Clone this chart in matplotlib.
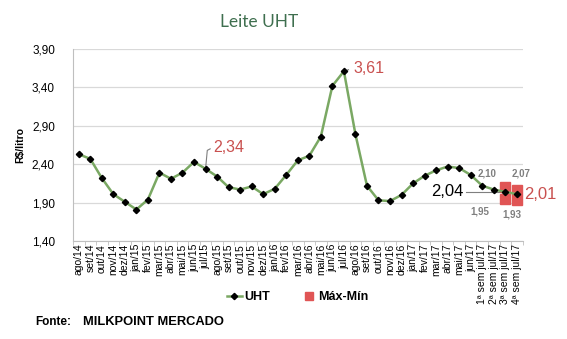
import matplotlib
matplotlib.use("Agg")
import matplotlib.pyplot as plt
import numpy as np

plt.rcParams['font.family'] = ['Liberation Sans', 'DejaVu Sans']

categories = [
    "ago/14", "set/14", "out/14", "nov/14", "dez/14",
    "jan/15", "fev/15", "mar/15", "abr/15", "mai/15", "jun/15",
    "jul/15", "ago/15", "set/15", "out/15", "nov/15", "dez/15",
    "jan/16", "fev/16", "mar/16", "abr/16", "mai/16", "jun/16",
    "jul/16", "ago/16", "set/16", "out/16", "nov/16", "dez/16",
    "jan/17", "fev/17", "mar/17", "abr/17", "mai/17", "jun/17",
    "1ª sem jul/17", "2ª sem jul/17", "3ª sem jul/17", "4ª sem jul/17",
]
uht = [
    2.53, 2.47, 2.22, 2.01, 1.91,
    1.81, 1.94, 2.29, 2.21, 2.29, 2.43,
    2.34, 2.24, 2.10, 2.07, 2.11, 2.01,
    2.08, 2.26, 2.45, 2.51, 2.76, 3.42,
    3.61, 2.79, 2.12, 1.93, 1.92, 2.00,
    2.15, 2.25, 2.32, 2.37, 2.35, 2.26,
    2.12, 2.07, 2.04, 2.01,
]
range_idx = [37, 38]
range_max = [2.10, 2.07]
range_min = [1.95, 1.93]
yticks = [1.40, 1.90, 2.40, 2.90, 3.40, 3.90]

green = "#7aa863"
red = "#c9504f"
sq_red = "#e05555"
grey = "#7f7f7f"


def br(v):
    return f"{v:.2f}".replace(".", ",")


fig = plt.figure(figsize=(5.67, 3.39), dpi=100)
ax = fig.add_axes([0.1287, 0.289, 0.793, 0.5665])

x = np.arange(len(categories)) + 0.5
ax.plot(x, uht, color=green, lw=1.8, marker="D", ms=3.2,
        mfc="black", mec="black", zorder=3)
xr = x[range_idx]
ax.plot(xr, range_max, ls="none", marker="s", ms=7, color=sq_red, zorder=2.5)
ax.plot(xr, range_min, ls="none", marker="s", ms=7, color=sq_red, zorder=2.5)

ax.set_xlim(0, len(categories))
ax.set_ylim(1.40, 3.90)
ax.set_yticks(yticks)
ax.set_yticklabels([br(v) for v in yticks], fontsize=8.5)
ax.set_xticks(x)
ax.set_xticklabels(categories, rotation=90, fontsize=7.5)
ax.set_xticks(np.arange(len(categories) + 1), minor=True)
ax.tick_params(axis="x", which="major", length=0, pad=2)
ax.tick_params(axis="x", which="minor", length=3, color="#bfbfbf")
ax.tick_params(axis="y", length=0, pad=13)
ax.grid(axis="y", color="#d9d9d9", lw=0.9)
ax.set_axisbelow(True)
for s in ["top", "right"]:
    ax.spines[s].set_visible(False)
for s in ["left", "bottom"]:
    ax.spines[s].set_color("#bfbfbf")
ax.set_ylabel("R$/litro", fontsize=7.5, fontweight="bold", labelpad=5)

# value callouts
i = categories.index("jul/15")
ax.plot([x[i], x[i] + 0.15, x[i] + 0.4], [uht[i], uht[i] + 0.24, uht[i] + 0.26],
        color=grey, lw=0.8)
ax.text(x[i] + 0.7, uht[i] + 0.28, br(uht[i]),
        color=red, fontsize=11.5, va="center", ha="left")

i = categories.index("jul/16")
ax.plot([x[i], x[i] + 0.4], [uht[i], uht[i] + 0.02], color=grey, lw=0.8)
ax.text(x[i] + 0.85, uht[i] + 0.04, br(uht[i]),
        color=red, fontsize=11.5, va="center", ha="left")

i = 37
ax.plot([x[i] - 3.4, x[i]], [uht[i], uht[i]], color=grey, lw=0.8)
ax.text(x[i] - 3.6, uht[i], br(uht[i]),
        color="black", fontsize=12, va="center", ha="right")

i = 38
ax.text(x[i] + 0.6, uht[i], br(uht[i]),
        color=red, fontsize=12, va="center", ha="left", clip_on=False)

small = dict(color=grey, fontsize=7, fontweight="bold", ha="center", va="center")
ax.text(xr[0] - 1.6, range_max[0] + 0.18, br(range_max[0]), **small)
ax.text(xr[1] + 0.36, range_max[1] + 0.21, br(range_max[1]), **small)
ax.text(xr[0] - 2.2, range_min[0] - 0.17, br(range_min[0]), **small)
ax.text(xr[1] - 0.4, range_min[1] - 0.18, br(range_min[1]), **small)

fig.text(0.457, 0.935, "Leite UHT", color="#3f6f4f", fontsize=12.5,
         family=["Lato", "DejaVu Sans"], ha="center", va="center")

h1, = ax.plot([], [], color=green, lw=1.8, marker="D", ms=3.2, mfc="black", mec="black")
h2, = ax.plot([], [], color=sq_red, lw=0, marker="s", ms=6)
fig.legend([h1, h2], ["UHT", "Máx-Mín"], loc="center", bbox_to_anchor=(0.525, 0.124),
           ncol=2, frameon=False, prop={"weight": "bold", "size": 9},
           handlelength=1.2, handletextpad=0.2, columnspacing=2.5)

fig.text(0.062, 0.05, "Fonte:", fontsize=8.5, fontweight="bold", va="center")
fig.text(0.146, 0.05, "MILKPOINT MERCADO", fontsize=9.3, fontweight="bold",
         va="center")

fig.savefig("out.png", dpi=100)
